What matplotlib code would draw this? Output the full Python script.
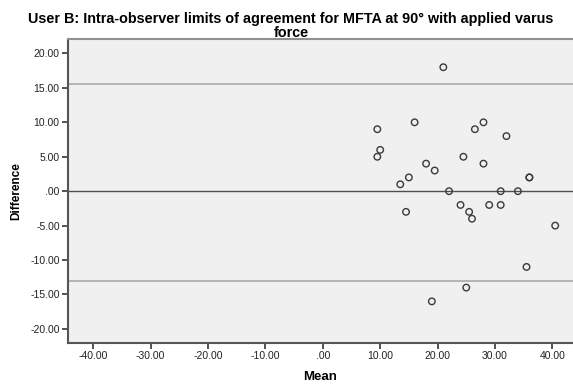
import matplotlib
matplotlib.use("Agg")
import matplotlib.pyplot as plt
from matplotlib.ticker import FuncFormatter

plt.rcParams['font.family'] = ['Liberation Sans', 'DejaVu Sans']

# Bland-Altman: mean of the two readings vs difference
mean_vals = [21, 9.5, 16, 28, 26.5, 32, 10, 9.5, 24.5, 18, 28, 19.5, 15, 36, 36,
             13.5, 22, 31, 34, 24, 29, 31, 14.5, 25.5, 26, 40.5, 35.5, 25, 19]
diff_vals = [18, 9, 10, 10, 9, 8, 6, 5, 5, 4, 4, 3, 2, 2, 2,
             1, 0, 0, 0, -2, -2, -2, -3, -3, -4, -5, -11, -14, -16]
upper_loa = 15.5
lower_loa = -13.05
ref_line = 0.0

x_ticks = [-40, -30, -20, -10, 0, 10, 20, 30, 40]
y_ticks = [-20, -15, -10, -5, 0, 5, 10, 15, 20]


def spss_fmt(v, pos=None):
    s = f'{v:.2f}'
    if s.startswith('0.'):
        s = s[1:]
    elif s.startswith('-0.'):
        s = '-' + s[2:]
    if s == '-.00':
        s = '.00'
    return s


fig = plt.figure(figsize=(5.73, 3.85), dpi=100)
ax = fig.add_axes([0.1187, 0.1099, 0.8813, 0.7888])
ax.set_facecolor('#f0f0f0')

ax.axhline(upper_loa, color='#b4b4b4', lw=1.4, zorder=1)
ax.axhline(lower_loa, color='#b4b4b4', lw=1.4, zorder=1)
ax.axhline(ref_line, color='#505050', lw=1.0, zorder=1)

ax.scatter(mean_vals, diff_vals, s=22, facecolors='none', edgecolors='#3a3a3a',
           linewidths=1.0, zorder=3)

ax.set_xlim(-44.4, 43.6)
ax.set_ylim(-22.0, 22.1)
ax.set_xticks(x_ticks)
ax.set_yticks(y_ticks)
ax.xaxis.set_major_formatter(FuncFormatter(spss_fmt))
ax.yaxis.set_major_formatter(FuncFormatter(spss_fmt))
ax.tick_params(axis='both', direction='out', length=4, width=1.2,
               color='#333333', labelsize=7.5, labelcolor='#222222', pad=2)

for side in ['left', 'bottom']:
    ax.spines[side].set_color('#555555')
    ax.spines[side].set_linewidth(1.5)
ax.spines['top'].set_color('#909090')
ax.spines['top'].set_linewidth(1.5)
ax.spines['right'].set_visible(False)

ax.set_xlabel('Mean', fontsize=9.5, fontweight='bold', labelpad=7)
ax.set_ylabel('Difference', fontsize=8.5, fontweight='bold', labelpad=6)

fig.text(0.508, 0.968, 'User B: Intra-observer limits of agreement for MFTA at 90\u00b0 with applied varus\nforce',
         ha='center', va='top', fontsize=10.4, fontweight='bold', linespacing=0.98)

fig.savefig('out.png', dpi=100)
